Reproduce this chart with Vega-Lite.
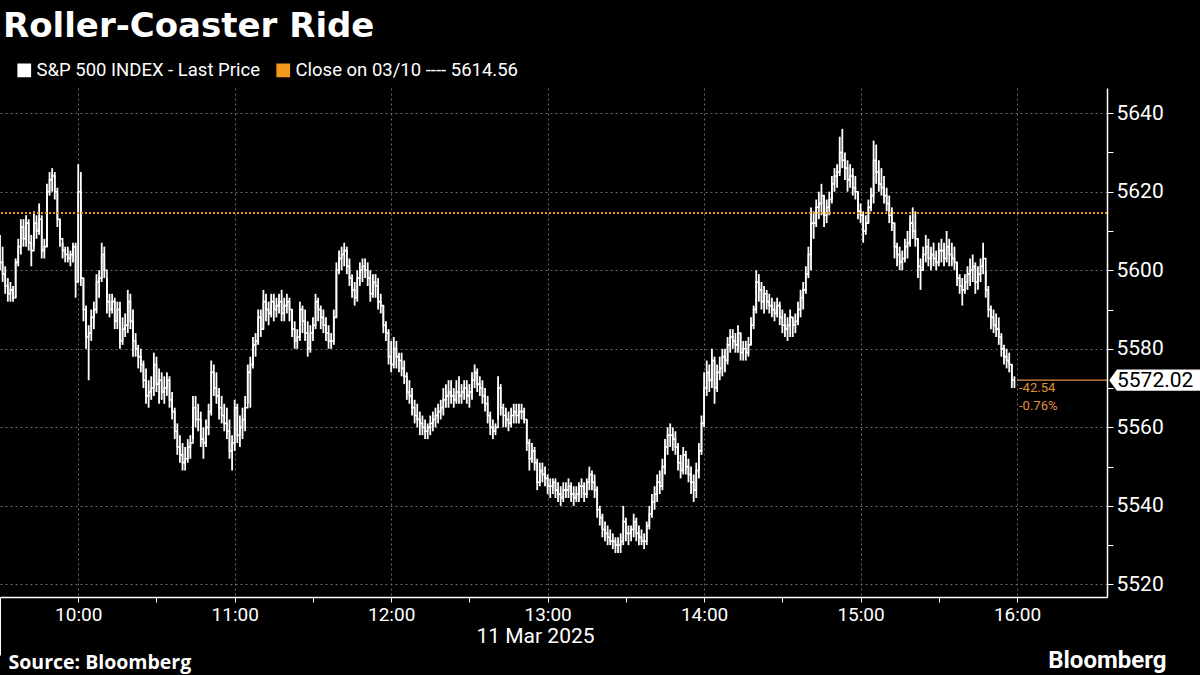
{
  "$schema": "https://vega.github.io/schema/vega-lite/v6.json",
  "autosize": {"type": "none"},
  "width": 1107,
  "height": 509,
  "padding": {"left": 0, "top": 88, "right": 93, "bottom": 78},
  "background": "black",
  "config": {"font": "Roboto", "view": {"stroke": null}},
  "title": {
    "text": "Roller-Coaster Ride",
    "anchor": "start",
    "frame": "group",
    "font": "DejaVu Sans",
    "fontSize": 34,
    "fontWeight": "bold",
    "color": "white",
    "offset": 17,
    "dx": 3
  },
  "data": {
    "format": {"parse": {"t": "date:'%H:%M'"}},
    "values": [
      {"t":"09:30","h":5609,"l":5600,"c":5602},{"t":"09:31","h":5606,"l":5597,"c":5599},{"t":"09:32","h":5601,"l":5594,"c":5596},
      {"t":"09:33","h":5598,"l":5592,"c":5594},{"t":"09:34","h":5597,"l":5592,"c":5595},{"t":"09:35","h":5596,"l":5592,"c":5593},
      {"t":"09:36","h":5603,"l":5593,"c":5602},{"t":"09:37","h":5608,"l":5601,"c":5606},{"t":"09:38","h":5613,"l":5604,"c":5611},
      {"t":"09:39","h":5613,"l":5606,"c":5608},{"t":"09:40","h":5614,"l":5606,"c":5612},{"t":"09:41","h":5613,"l":5605,"c":5607},
      {"t":"09:42","h":5609,"l":5601,"c":5605},{"t":"09:43","h":5615,"l":5606,"c":5612},{"t":"09:44","h":5614,"l":5608,"c":5610},
      {"t":"09:45","h":5617,"l":5609,"c":5613},{"t":"09:46","h":5614,"l":5603,"c":5605},{"t":"09:47","h":5608,"l":5603,"c":5606},
      {"t":"09:48","h":5622,"l":5606,"c":5620},{"t":"09:49","h":5625,"l":5619,"c":5623},{"t":"09:50","h":5626,"l":5620,"c":5624},
      {"t":"09:51","h":5625,"l":5618,"c":5620},{"t":"09:52","h":5621,"l":5611,"c":5613},{"t":"09:53","h":5613,"l":5606,"c":5608},
      {"t":"09:54","h":5607,"l":5603,"c":5605},{"t":"09:55","h":5606,"l":5602,"c":5604},{"t":"09:56","h":5606,"l":5602,"c":5603},
      {"t":"09:57","h":5605,"l":5601,"c":5604},{"t":"09:58","h":5607,"l":5602,"c":5606},{"t":"09:59","h":5607,"l":5593,"c":5597},
      {"t":"10:00","h":5627,"l":5597,"c":5620},{"t":"10:01","h":5625,"l":5596,"c":5598},{"t":"10:02","h":5598,"l":5587,"c":5590},
      {"t":"10:03","h":5591,"l":5580,"c":5583},{"t":"10:04","h":5586,"l":5572,"c":5584},{"t":"10:05","h":5590,"l":5582,"c":5588},
      {"t":"10:06","h":5592,"l":5585,"c":5590},{"t":"10:07","h":5599,"l":5589,"c":5597},{"t":"10:08","h":5600,"l":5593,"c":5598},
      {"t":"10:09","h":5607,"l":5597,"c":5604},{"t":"10:10","h":5606,"l":5598,"c":5600},{"t":"10:11","h":5598,"l":5589,"c":5592},
      {"t":"10:12","h":5594,"l":5588,"c":5590},{"t":"10:13","h":5594,"l":5589,"c":5592},{"t":"10:14","h":5593,"l":5585,"c":5587},
      {"t":"10:15","h":5592,"l":5585,"c":5590},{"t":"10:16","h":5592,"l":5580,"c":5582},{"t":"10:17","h":5588,"l":5581,"c":5585},
      {"t":"10:18","h":5589,"l":5583,"c":5586},{"t":"10:19","h":5595,"l":5584,"c":5592},{"t":"10:20","h":5594,"l":5585,"c":5587},
      {"t":"10:21","h":5590,"l":5578,"c":5582},{"t":"10:22","h":5584,"l":5578,"c":5580},{"t":"10:23","h":5581,"l":5575,"c":5578},
      {"t":"10:24","h":5580,"l":5574,"c":5576},{"t":"10:25","h":5577,"l":5570,"c":5572},{"t":"10:26","h":5575,"l":5566,"c":5568},
      {"t":"10:27","h":5572,"l":5565,"c":5569},{"t":"10:28","h":5573,"l":5567,"c":5570},{"t":"10:29","h":5579,"l":5568,"c":5576},
      {"t":"10:30","h":5578,"l":5569,"c":5571},{"t":"10:31","h":5575,"l":5566,"c":5572},{"t":"10:32","h":5574,"l":5567,"c":5569},
      {"t":"10:33","h":5573,"l":5566,"c":5570},{"t":"10:34","h":5574,"l":5568,"c":5572},{"t":"10:35","h":5573,"l":5565,"c":5567},
      {"t":"10:36","h":5569,"l":5562,"c":5564},{"t":"10:37","h":5565,"l":5557,"c":5559},{"t":"10:38","h":5561,"l":5553,"c":5555},
      {"t":"10:39","h":5558,"l":5551,"c":5553},{"t":"10:40","h":5556,"l":5549,"c":5551},{"t":"10:41","h":5555,"l":5549,"c":5552},
      {"t":"10:42","h":5557,"l":5551,"c":5555},{"t":"10:43","h":5558,"l":5552,"c":5556},{"t":"10:44","h":5568,"l":5557,"c":5565},
      {"t":"10:45","h":5568,"l":5560,"c":5562},{"t":"10:46","h":5566,"l":5559,"c":5562},{"t":"10:47","h":5564,"l":5555,"c":5557},
      {"t":"10:48","h":5560,"l":5552,"c":5556},{"t":"10:49","h":5562,"l":5555,"c":5560},{"t":"10:50","h":5566,"l":5558,"c":5564},
      {"t":"10:51","h":5577,"l":5563,"c":5574},{"t":"10:52","h":5576,"l":5568,"c":5570},{"t":"10:53","h":5574,"l":5566,"c":5568},
      {"t":"10:54","h":5570,"l":5562,"c":5565},{"t":"10:55","h":5568,"l":5561,"c":5563},{"t":"10:56","h":5566,"l":5559,"c":5561},
      {"t":"10:57","h":5565,"l":5557,"c":5559},{"t":"10:58","h":5562,"l":5552,"c":5554},{"t":"10:59","h":5558,"l":5549,"c":5556},
      {"t":"11:00","h":5567,"l":5554,"c":5565},{"t":"11:01","h":5566,"l":5556,"c":5558},{"t":"11:02","h":5563,"l":5555,"c":5560},
      {"t":"11:03","h":5565,"l":5557,"c":5562},{"t":"11:04","h":5568,"l":5559,"c":5565},{"t":"11:05","h":5576,"l":5566,"c":5574},
      {"t":"11:06","h":5578,"l":5565,"c":5576},{"t":"11:07","h":5583,"l":5575,"c":5581},{"t":"11:08","h":5584,"l":5578,"c":5582},
      {"t":"11:09","h":5590,"l":5581,"c":5588},{"t":"11:10","h":5590,"l":5583,"c":5585},{"t":"11:11","h":5595,"l":5585,"c":5592},
      {"t":"11:12","h":5594,"l":5587,"c":5590},{"t":"11:13","h":5592,"l":5586,"c":5589},{"t":"11:14","h":5594,"l":5588,"c":5592},
      {"t":"11:15","h":5594,"l":5587,"c":5590},{"t":"11:16","h":5593,"l":5588,"c":5591},{"t":"11:17","h":5594,"l":5589,"c":5592},
      {"t":"11:18","h":5595,"l":5587,"c":5589},{"t":"11:19","h":5593,"l":5587,"c":5591},{"t":"11:20","h":5594,"l":5589,"c":5592},
      {"t":"11:21","h":5593,"l":5587,"c":5590},{"t":"11:22","h":5590,"l":5583,"c":5585},{"t":"11:23","h":5587,"l":5580,"c":5582},
      {"t":"11:24","h":5585,"l":5580,"c":5583},{"t":"11:25","h":5592,"l":5582,"c":5590},{"t":"11:26","h":5591,"l":5584,"c":5587},
      {"t":"11:27","h":5590,"l":5582,"c":5584},{"t":"11:28","h":5587,"l":5578,"c":5580},{"t":"11:29","h":5586,"l":5579,"c":5584},
      {"t":"11:30","h":5588,"l":5582,"c":5586},{"t":"11:31","h":5594,"l":5585,"c":5592},{"t":"11:32","h":5593,"l":5587,"c":5590},
      {"t":"11:33","h":5591,"l":5585,"c":5588},{"t":"11:34","h":5590,"l":5584,"c":5586},{"t":"11:35","h":5588,"l":5582,"c":5584},
      {"t":"11:36","h":5586,"l":5580,"c":5582},{"t":"11:37","h":5584,"l":5580,"c":5582},{"t":"11:38","h":5590,"l":5581,"c":5588},
      {"t":"11:39","h":5602,"l":5588,"c":5600},{"t":"11:40","h":5605,"l":5599,"c":5603},{"t":"11:41","h":5606,"l":5600,"c":5604},
      {"t":"11:42","h":5607,"l":5601,"c":5605},{"t":"11:43","h":5606,"l":5599,"c":5601},{"t":"11:44","h":5603,"l":5596,"c":5598},
      {"t":"11:45","h":5599,"l":5593,"c":5595},{"t":"11:46","h":5597,"l":5591,"c":5593},{"t":"11:47","h":5600,"l":5592,"c":5598},
      {"t":"11:48","h":5602,"l":5596,"c":5600},{"t":"11:49","h":5603,"l":5597,"c":5601},{"t":"11:50","h":5603,"l":5598,"c":5600},
      {"t":"11:51","h":5602,"l":5596,"c":5598},{"t":"11:52","h":5600,"l":5592,"c":5594},{"t":"11:53","h":5599,"l":5593,"c":5597},
      {"t":"11:54","h":5599,"l":5593,"c":5596},{"t":"11:55","h":5598,"l":5590,"c":5592},{"t":"11:56","h":5594,"l":5589,"c":5591},
      {"t":"11:57","h":5591,"l":5584,"c":5586},{"t":"11:58","h":5587,"l":5582,"c":5584},{"t":"11:59","h":5585,"l":5576,"c":5578},
      {"t":"12:00","h":5582,"l":5574,"c":5576},{"t":"12:01","h":5583,"l":5575,"c":5580},{"t":"12:02","h":5582,"l":5575,"c":5578},
      {"t":"12:03","h":5579,"l":5574,"c":5577},{"t":"12:04","h":5579,"l":5573,"c":5575},{"t":"12:05","h":5577,"l":5571,"c":5573},
      {"t":"12:06","h":5574,"l":5567,"c":5569},{"t":"12:07","h":5572,"l":5566,"c":5568},{"t":"12:08","h":5570,"l":5563,"c":5565},
      {"t":"12:09","h":5567,"l":5561,"c":5563},{"t":"12:10","h":5566,"l":5560,"c":5562},{"t":"12:11","h":5564,"l":5558,"c":5561},
      {"t":"12:12","h":5563,"l":5558,"c":5560},{"t":"12:13","h":5562,"l":5557,"c":5559},{"t":"12:14","h":5561,"l":5557,"c":5560},
      {"t":"12:15","h":5563,"l":5558,"c":5561},{"t":"12:16","h":5564,"l":5559,"c":5562},{"t":"12:17","h":5565,"l":5560,"c":5563},
      {"t":"12:18","h":5566,"l":5561,"c":5564},{"t":"12:19","h":5567,"l":5562,"c":5565},{"t":"12:20","h":5570,"l":5563,"c":5567},
      {"t":"12:21","h":5571,"l":5565,"c":5568},{"t":"12:22","h":5572,"l":5565,"c":5569},{"t":"12:23","h":5572,"l":5566,"c":5568},
      {"t":"12:24","h":5570,"l":5565,"c":5567},{"t":"12:25","h":5572,"l":5566,"c":5569},{"t":"12:26","h":5573,"l":5566,"c":5568},
      {"t":"12:27","h":5571,"l":5566,"c":5569},{"t":"12:28","h":5572,"l":5567,"c":5570},{"t":"12:29","h":5572,"l":5566,"c":5568},
      {"t":"12:30","h":5571,"l":5565,"c":5569},{"t":"12:31","h":5574,"l":5567,"c":5572},{"t":"12:32","h":5576,"l":5570,"c":5574},
      {"t":"12:33","h":5575,"l":5569,"c":5571},{"t":"12:34","h":5573,"l":5568,"c":5570},{"t":"12:35","h":5572,"l":5566,"c":5568},
      {"t":"12:36","h":5570,"l":5564,"c":5566},{"t":"12:37","h":5568,"l":5561,"c":5563},{"t":"12:38","h":5564,"l":5558,"c":5560},
      {"t":"12:39","h":5562,"l":5557,"c":5559},{"t":"12:40","h":5561,"l":5558,"c":5560},{"t":"12:41","h":5573,"l":5562,"c":5570},
      {"t":"12:42","h":5571,"l":5563,"c":5565},{"t":"12:43","h":5566,"l":5560,"c":5563},{"t":"12:44","h":5565,"l":5560,"c":5562},
      {"t":"12:45","h":5564,"l":5559,"c":5561},{"t":"12:46","h":5565,"l":5560,"c":5563},{"t":"12:47","h":5566,"l":5561,"c":5564},
      {"t":"12:48","h":5566,"l":5561,"c":5563},{"t":"12:49","h":5566,"l":5561,"c":5564},{"t":"12:50","h":5566,"l":5562,"c":5564},
      {"t":"12:51","h":5565,"l":5561,"c":5562},{"t":"12:52","h":5562,"l":5554,"c":5556},{"t":"12:53","h":5557,"l":5549,"c":5552},
      {"t":"12:54","h":5556,"l":5551,"c":5554},{"t":"12:55","h":5555,"l":5549,"c":5551},{"t":"12:56","h":5552,"l":5544,"c":5546},
      {"t":"12:57","h":5551,"l":5545,"c":5549},{"t":"12:58","h":5551,"l":5546,"c":5548},{"t":"12:59","h":5550,"l":5545,"c":5547},
      {"t":"13:00","h":5548,"l":5543,"c":5545},{"t":"13:01","h":5547,"l":5542,"c":5545},{"t":"13:02","h":5547,"l":5543,"c":5546},
      {"t":"13:03","h":5547,"l":5542,"c":5544},{"t":"13:04","h":5546,"l":5541,"c":5543},{"t":"13:05","h":5545,"l":5540,"c":5542},
      {"t":"13:06","h":5546,"l":5541,"c":5544},{"t":"13:07","h":5546,"l":5542,"c":5544},{"t":"13:08","h":5547,"l":5542,"c":5545},
      {"t":"13:09","h":5546,"l":5541,"c":5543},{"t":"13:10","h":5545,"l":5540,"c":5542},{"t":"13:11","h":5545,"l":5541,"c":5543},
      {"t":"13:12","h":5546,"l":5541,"c":5545},{"t":"13:13","h":5547,"l":5542,"c":5545},{"t":"13:14","h":5546,"l":5541,"c":5543},
      {"t":"13:15","h":5547,"l":5542,"c":5546},{"t":"13:16","h":5550,"l":5544,"c":5548},{"t":"13:17","h":5549,"l":5544,"c":5546},
      {"t":"13:18","h":5548,"l":5542,"c":5544},{"t":"13:19","h":5545,"l":5537,"c":5539},{"t":"13:20","h":5540,"l":5535,"c":5537},
      {"t":"13:21","h":5538,"l":5532,"c":5534},{"t":"13:22","h":5536,"l":5531,"c":5533},{"t":"13:23","h":5535,"l":5530,"c":5532},
      {"t":"13:24","h":5534,"l":5530,"c":5531},{"t":"13:25","h":5533,"l":5529,"c":5531},{"t":"13:26","h":5532,"l":5528,"c":5530},
      {"t":"13:27","h":5532,"l":5528,"c":5530},{"t":"13:28","h":5533,"l":5528,"c":5531},{"t":"13:29","h":5540,"l":5530,"c":5536},
      {"t":"13:30","h":5537,"l":5531,"c":5533},{"t":"13:31","h":5535,"l":5530,"c":5533},{"t":"13:32","h":5535,"l":5531,"c":5534},
      {"t":"13:33","h":5538,"l":5532,"c":5536},{"t":"13:34","h":5537,"l":5531,"c":5533},{"t":"13:35","h":5535,"l":5530,"c":5532},
      {"t":"13:36","h":5534,"l":5530,"c":5531},{"t":"13:37","h":5533,"l":5529,"c":5531},{"t":"13:38","h":5536,"l":5530,"c":5535},
      {"t":"13:39","h":5540,"l":5534,"c":5538},{"t":"13:40","h":5543,"l":5537,"c":5541},{"t":"13:41","h":5545,"l":5539,"c":5543},
      {"t":"13:42","h":5548,"l":5541,"c":5546},{"t":"13:43","h":5549,"l":5543,"c":5545},{"t":"13:44","h":5552,"l":5544,"c":5550},
      {"t":"13:45","h":5557,"l":5548,"c":5555},{"t":"13:46","h":5560,"l":5553,"c":5558},{"t":"13:47","h":5561,"l":5555,"c":5558},
      {"t":"13:48","h":5560,"l":5554,"c":5557},{"t":"13:49","h":5559,"l":5553,"c":5555},{"t":"13:50","h":5556,"l":5549,"c":5551},
      {"t":"13:51","h":5553,"l":5547,"c":5549},{"t":"13:52","h":5555,"l":5548,"c":5553},{"t":"13:53","h":5554,"l":5548,"c":5550},
      {"t":"13:54","h":5552,"l":5546,"c":5548},{"t":"13:55","h":5550,"l":5543,"c":5546},{"t":"13:56","h":5548,"l":5541,"c":5544},
      {"t":"13:57","h":5551,"l":5542,"c":5549},{"t":"13:58","h":5556,"l":5547,"c":5554},{"t":"13:59","h":5563,"l":5553,"c":5561},
      {"t":"14:00","h":5574,"l":5560,"c":5570},{"t":"14:01","h":5577,"l":5568,"c":5574},{"t":"14:02","h":5576,"l":5569,"c":5572},
      {"t":"14:03","h":5580,"l":5570,"c":5577},{"t":"14:04","h":5578,"l":5566,"c":5570},{"t":"14:05","h":5576,"l":5569,"c":5574},
      {"t":"14:06","h":5578,"l":5572,"c":5575},{"t":"14:07","h":5580,"l":5573,"c":5578},{"t":"14:08","h":5580,"l":5574,"c":5577},
      {"t":"14:09","h":5583,"l":5576,"c":5581},{"t":"14:10","h":5585,"l":5579,"c":5583},{"t":"14:11","h":5585,"l":5580,"c":5582},
      {"t":"14:12","h":5584,"l":5579,"c":5581},{"t":"14:13","h":5586,"l":5579,"c":5584},{"t":"14:14","h":5584,"l":5577,"c":5579},
      {"t":"14:15","h":5582,"l":5577,"c":5580},{"t":"14:16","h":5582,"l":5577,"c":5579},{"t":"14:17","h":5583,"l":5578,"c":5581},
      {"t":"14:18","h":5588,"l":5581,"c":5586},{"t":"14:19","h":5591,"l":5585,"c":5590},{"t":"14:20","h":5600,"l":5589,"c":5597},
      {"t":"14:21","h":5599,"l":5592,"c":5595},{"t":"14:22","h":5597,"l":5590,"c":5592},{"t":"14:23","h":5596,"l":5589,"c":5594},
      {"t":"14:24","h":5595,"l":5590,"c":5592},{"t":"14:25","h":5594,"l":5589,"c":5591},{"t":"14:26","h":5593,"l":5588,"c":5590},
      {"t":"14:27","h":5592,"l":5587,"c":5589},{"t":"14:28","h":5593,"l":5588,"c":5591},{"t":"14:29","h":5592,"l":5586,"c":5588},
      {"t":"14:30","h":5590,"l":5584,"c":5586},{"t":"14:31","h":5589,"l":5583,"c":5585},{"t":"14:32","h":5588,"l":5582,"c":5586},
      {"t":"14:33","h":5590,"l":5583,"c":5588},{"t":"14:34","h":5588,"l":5583,"c":5586},{"t":"14:35","h":5589,"l":5584,"c":5587},
      {"t":"14:36","h":5592,"l":5586,"c":5590},{"t":"14:37","h":5595,"l":5588,"c":5593},{"t":"14:38","h":5597,"l":5590,"c":5595},
      {"t":"14:39","h":5601,"l":5594,"c":5599},{"t":"14:40","h":5606,"l":5598,"c":5604},{"t":"14:41","h":5616,"l":5600,"c":5612},
      {"t":"14:42","h":5615,"l":5608,"c":5612},{"t":"14:43","h":5618,"l":5611,"c":5616},{"t":"14:44","h":5620,"l":5613,"c":5617},
      {"t":"14:45","h":5622,"l":5614,"c":5619},{"t":"14:46","h":5619,"l":5611,"c":5614},{"t":"14:47","h":5618,"l":5612,"c":5616},
      {"t":"14:48","h":5620,"l":5614,"c":5618},{"t":"14:49","h":5624,"l":5617,"c":5622},{"t":"14:50","h":5626,"l":5620,"c":5624},
      {"t":"14:51","h":5627,"l":5621,"c":5625},{"t":"14:52","h":5634,"l":5624,"c":5630},{"t":"14:53","h":5636,"l":5626,"c":5628},
      {"t":"14:54","h":5630,"l":5623,"c":5626},{"t":"14:55","h":5628,"l":5620,"c":5623},{"t":"14:56","h":5627,"l":5621,"c":5624},
      {"t":"14:57","h":5626,"l":5619,"c":5621},{"t":"14:58","h":5624,"l":5618,"c":5620},{"t":"14:59","h":5620,"l":5613,"c":5615},
      {"t":"15:00","h":5617,"l":5612,"c":5614},{"t":"15:01","h":5615,"l":5607,"c":5610},{"t":"15:02","h":5614,"l":5609,"c":5612},
      {"t":"15:03","h":5618,"l":5612,"c":5616},{"t":"15:04","h":5621,"l":5615,"c":5619},{"t":"15:05","h":5633,"l":5617,"c":5628},
      {"t":"15:06","h":5632,"l":5622,"c":5625},{"t":"15:07","h":5628,"l":5620,"c":5622},{"t":"15:08","h":5626,"l":5619,"c":5621},
      {"t":"15:09","h":5624,"l":5617,"c":5619},{"t":"15:10","h":5621,"l":5615,"c":5617},{"t":"15:11","h":5619,"l":5612,"c":5614},
      {"t":"15:12","h":5616,"l":5610,"c":5612},{"t":"15:13","h":5612,"l":5603,"c":5606},{"t":"15:14","h":5607,"l":5601,"c":5604},
      {"t":"15:15","h":5606,"l":5600,"c":5602},{"t":"15:16","h":5605,"l":5600,"c":5603},{"t":"15:17","h":5608,"l":5602,"c":5606},
      {"t":"15:18","h":5610,"l":5603,"c":5607},{"t":"15:19","h":5614,"l":5606,"c":5612},{"t":"15:20","h":5616,"l":5608,"c":5610},
      {"t":"15:21","h":5615,"l":5606,"c":5608},{"t":"15:22","h":5608,"l":5598,"c":5601},{"t":"15:23","h":5603,"l":5595,"c":5600},
      {"t":"15:24","h":5606,"l":5600,"c":5604},{"t":"15:25","h":5609,"l":5602,"c":5606},{"t":"15:26","h":5608,"l":5601,"c":5603},
      {"t":"15:27","h":5606,"l":5600,"c":5604},{"t":"15:28","h":5607,"l":5601,"c":5603},{"t":"15:29","h":5605,"l":5600,"c":5602},
      {"t":"15:30","h":5607,"l":5601,"c":5605},{"t":"15:31","h":5608,"l":5602,"c":5605},{"t":"15:32","h":5607,"l":5601,"c":5603},
      {"t":"15:33","h":5610,"l":5602,"c":5606},{"t":"15:34","h":5608,"l":5601,"c":5604},{"t":"15:35","h":5607,"l":5601,"c":5603},
      {"t":"15:36","h":5606,"l":5600,"c":5602},{"t":"15:37","h":5602,"l":5596,"c":5598},{"t":"15:38","h":5599,"l":5594,"c":5596},
      {"t":"15:39","h":5598,"l":5591,"c":5595},{"t":"15:40","h":5599,"l":5594,"c":5597},{"t":"15:41","h":5601,"l":5595,"c":5599},
      {"t":"15:42","h":5603,"l":5596,"c":5600},{"t":"15:43","h":5604,"l":5597,"c":5601},{"t":"15:44","h":5602,"l":5594,"c":5597},
      {"t":"15:45","h":5601,"l":5595,"c":5599},{"t":"15:46","h":5603,"l":5597,"c":5601},{"t":"15:47","h":5607,"l":5599,"c":5603},
      {"t":"15:48","h":5600,"l":5593,"c":5595},{"t":"15:49","h":5596,"l":5588,"c":5590},{"t":"15:50","h":5591,"l":5585,"c":5588},
      {"t":"15:51","h":5590,"l":5584,"c":5586},{"t":"15:52","h":5589,"l":5583,"c":5585},{"t":"15:53","h":5588,"l":5581,"c":5583},
      {"t":"15:54","h":5584,"l":5578,"c":5580},{"t":"15:55","h":5581,"l":5576,"c":5578},{"t":"15:56","h":5580,"l":5575,"c":5577},
      {"t":"15:57","h":5579,"l":5574,"c":5576},{"t":"15:58","h":5576,"l":5570,"c":5572},{"t":"15:59","h":5573,"l":5570,"c":5572.02}
    ]
  },
  "resolve": {"axis": {"x": "independent", "y": "independent"}},
  "layer": [
    {
      "mark": {"type": "line", "color": "white", "strokeWidth": 1.6, "interpolate": "step-after"},
      "encoding": {
        "x": {
          "field": "t",
          "type": "temporal",
          "scale": {
            "domain": [
              {"year": 1900, "month": 1, "date": 1, "hours": 9, "minutes": 30},
              {"year": 1900, "month": 1, "date": 1, "hours": 16, "minutes": 34, "seconds": 30}
            ]
          },
          "axis": {
            "orient": "bottom",
            "values": [
              {"year": 1900, "month": 1, "date": 1, "hours": 10, "minutes": 0},
              {"year": 1900, "month": 1, "date": 1, "hours": 11, "minutes": 0},
              {"year": 1900, "month": 1, "date": 1, "hours": 12, "minutes": 0},
              {"year": 1900, "month": 1, "date": 1, "hours": 13, "minutes": 0},
              {"year": 1900, "month": 1, "date": 1, "hours": 14, "minutes": 0},
              {"year": 1900, "month": 1, "date": 1, "hours": 15, "minutes": 0},
              {"year": 1900, "month": 1, "date": 1, "hours": 16, "minutes": 0}
            ],
            "grid": true,
            "gridColor": "#6a6a6a",
            "gridDash": [2, 3],
            "labels": false,
            "ticks": false,
            "domain": false,
            "title": null
          }
        },
        "y": {
          "field": "c",
          "type": "quantitative",
          "scale": {"domain": [5516.8, 5646.4], "nice": false, "zero": false},
          "axis": {
            "orient": "right",
            "values": [5520, 5540, 5560, 5580, 5600, 5620, 5640],
            "grid": true,
            "gridColor": "#6a6a6a",
            "gridDash": [2, 3],
            "labels": false,
            "ticks": false,
            "domain": false,
            "title": null
          }
        }
      }
    },
    {
      "mark": {"type": "rule", "strokeWidth": 1.8},
      "encoding": {
        "x": {
          "field": "t",
          "type": "temporal",
          "axis": {
            "orient": "bottom",
            "values": [
              {"year": 1900, "month": 1, "date": 1, "hours": 9, "minutes": 30},
              {"year": 1900, "month": 1, "date": 1, "hours": 10, "minutes": 0},
              {"year": 1900, "month": 1, "date": 1, "hours": 10, "minutes": 30},
              {"year": 1900, "month": 1, "date": 1, "hours": 11, "minutes": 0},
              {"year": 1900, "month": 1, "date": 1, "hours": 11, "minutes": 30},
              {"year": 1900, "month": 1, "date": 1, "hours": 12, "minutes": 0},
              {"year": 1900, "month": 1, "date": 1, "hours": 12, "minutes": 30},
              {"year": 1900, "month": 1, "date": 1, "hours": 13, "minutes": 0},
              {"year": 1900, "month": 1, "date": 1, "hours": 13, "minutes": 30},
              {"year": 1900, "month": 1, "date": 1, "hours": 14, "minutes": 0},
              {"year": 1900, "month": 1, "date": 1, "hours": 14, "minutes": 30},
              {"year": 1900, "month": 1, "date": 1, "hours": 15, "minutes": 0},
              {"year": 1900, "month": 1, "date": 1, "hours": 15, "minutes": 30},
              {"year": 1900, "month": 1, "date": 1, "hours": 16, "minutes": 0}
            ],
            "labelExpr": "minutes(datum.value) == 0 ? timeFormat(datum.value, '%H:%M') : ''",
            "labelOverlap": false,
            "labelFlush": false,
            "labelColor": "white",
            "labelFontSize": 19,
            "labelPadding": 3,
            "tickColor": "white",
            "tickSize": {"condition": {"test": "hours(datum.value) == 9", "value": 58}, "value": 5},
            "domainColor": "white",
            "domainWidth": 1.5,
            "grid": false,
            "title": "11 Mar 2025",
            "titleColor": "white",
            "titleFontSize": 21,
            "titleFontWeight": "normal",
            "titleX": 535,
            "titleY": 28,
            "titleAlign": "center",
            "titleBaseline": "top"
          }
        },
        "y": {
          "field": "l",
          "type": "quantitative",
          "axis": {
            "orient": "right",
            "values": [5520, 5530, 5540, 5550, 5560, 5570, 5580, 5590, 5600, 5610, 5620, 5630, 5640],
            "format": "d",
            "labelExpr": "datum.value % 20 == 0 ? datum.label : ''",
            "labelColor": "white",
            "labelFontSize": 21,
            "labelPadding": 3,
            "tickColor": "white",
            "tickSize": 6,
            "domainColor": "white",
            "domainWidth": 1.5,
            "grid": false,
            "title": "Source: Bloomberg",
            "titleAngle": 0,
            "titleColor": "white",
            "titleFont": "Open Sans",
            "titleFontSize": 19.5,
            "titleFontWeight": "bold",
            "titleAlign": "left",
            "titleBaseline": "middle",
            "titleX": -1099,
            "titleY": 574
          }
        },
        "y2": {"field": "h"},
        "color": {
          "datum": "S&P 500 INDEX - Last Price",
          "scale": {
            "domain": ["S&P 500 INDEX - Last Price", "Close on 03/10 ---- 5614.56"],
            "range": ["#ffffff", "#f39a1e"]
          },
          "legend": {
            "orient": "none",
            "legendX": 15,
            "legendY": -27,
            "direction": "horizontal",
            "title": null,
            "labelColor": "white",
            "labelFontSize": 18.5,
            "labelLimit": 400,
            "labelOffset": 3,
            "symbolType": "square",
            "symbolSize": 150,
            "columnPadding": 14,
            "encode": {
              "symbols": {
                "update": {
                  "fill": {"scale": "color", "field": "value"},
                  "stroke": {"value": "transparent"}
                }
              }
            }
          }
        }
      }
    },
    {
      "data": {"values": [{"ref": 5614.56}]},
      "mark": {"type": "rule", "strokeWidth": 2, "strokeDash": [2, 2]},
      "encoding": {
        "y": {"field": "ref", "type": "quantitative", "axis": null},
        "color": {"datum": "Close on 03/10 ---- 5614.56"}
      }
    },
    {
      "data": {"values": [{"last": 5572.02}]},
      "mark": {"type": "rule", "color": "#e39048", "strokeWidth": 1.2},
      "encoding": {
        "x": {"datum": {"year": 1900, "month": 1, "date": 1, "hours": 16, "minutes": 0}, "axis": null},
        "x2": {"datum": {"year": 1900, "month": 1, "date": 1, "hours": 16, "minutes": 34, "seconds": 30}},
        "y": {
          "field": "last",
          "type": "quantitative",
          "axis": {
            "orient": "left",
            "labels": false,
            "ticks": false,
            "domain": false,
            "grid": false,
            "title": "Bloomberg",
            "titleAngle": 0,
            "titleColor": "white",
            "titleFontSize": 24,
            "titleFontWeight": "bold",
            "titleAlign": "right",
            "titleBaseline": "middle",
            "titleX": 1166,
            "titleY": 572
          }
        }
      }
    },
    {
      "data": {"values": [{"last": 5572.02}]},
      "mark": {"type": "text", "align": "left", "baseline": "top", "dx": 2, "dy": 2, "fontSize": 13, "lineHeight": 18, "color": "#e0913a"},
      "encoding": {
        "x": {"datum": {"year": 1900, "month": 1, "date": 1, "hours": 16, "minutes": 0}, "axis": null},
        "y": {"field": "last", "type": "quantitative", "axis": null},
        "text": {"value": ["-42.54", "-0.76%"]}
      }
    },
    {
      "data": {"values": [{"last": 5572.02}]},
      "mark": {
        "type": "point",
        "shape": "M0.05,0L0.22,-0.235L2.1,-0.235L2.1,0.235L0.22,0.235Z",
        "size": 8100,
        "filled": true,
        "color": "white",
        "opacity": 1
      },
      "encoding": {
        "x": {"datum": {"year": 1900, "month": 1, "date": 1, "hours": 16, "minutes": 34, "seconds": 30}, "axis": null},
        "y": {"field": "last", "type": "quantitative", "axis": null}
      }
    },
    {
      "data": {"values": [{"last": 5572.02}]},
      "mark": {"type": "text", "align": "left", "baseline": "middle", "dx": 10, "dy": 1, "fontSize": 21, "color": "black"},
      "encoding": {
        "x": {"datum": {"year": 1900, "month": 1, "date": 1, "hours": 16, "minutes": 34, "seconds": 30}, "axis": null},
        "y": {"field": "last", "type": "quantitative", "axis": null},
        "text": {"field": "last", "type": "quantitative", "format": ".2f"}
      }
    }
  ]
}
